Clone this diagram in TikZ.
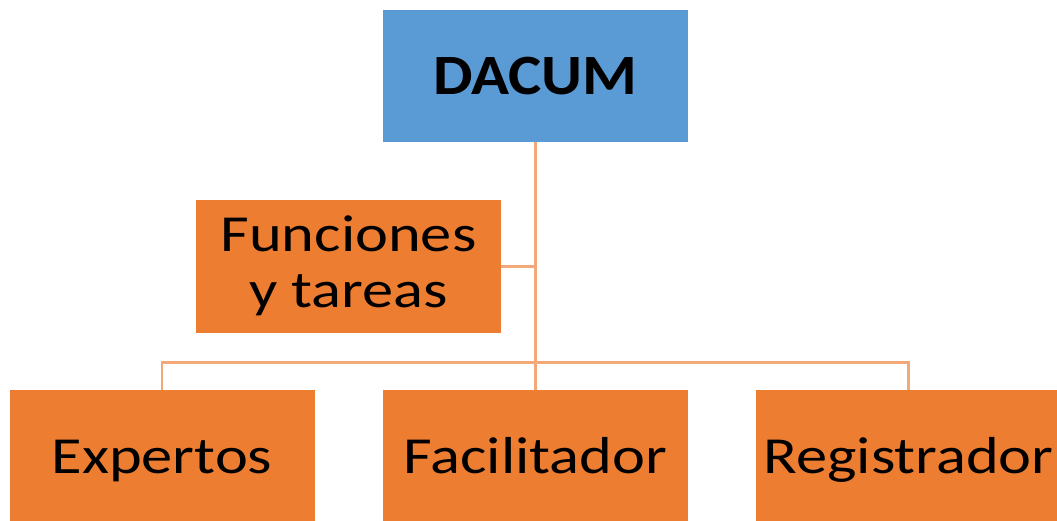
\documentclass[tikz,border=0pt]{standalone}
\usepackage{fontspec}
\setmainfont{Carlito}[FakeStretch=1.2]
\newfontfamily\dacumfont{Carlito}[FakeStretch=1.1]
\definecolor{dblue}{HTML}{5B9BD5}
\definecolor{dorange}{HTML}{ED7D31}
\definecolor{dline}{HTML}{F2A878}
\begin{document}
\begin{tikzpicture}[x=1pt,y=-1pt,
  box/.style={rectangle, inner sep=0pt, minimum width=305pt, minimum height=132pt,
    text=black, font=\fontsize{52}{56}\selectfont, text height=34pt, text depth=0pt, align=center},
  link/.style={draw=dline, line width=2.2pt}]
\useasboundingbox (0,0) rectangle (1057,521);
\clip (0,0) rectangle (1057,521);
\node[box, fill=dblue, font=\dacumfont\bfseries\fontsize{57}{60}\selectfont, text height=37pt] (dacum) at (535.5,76) {DACUM};
\node[box, fill=dorange, text height=90pt, text depth=8pt] (func) at (348.5,266.5) {Funciones\\y tareas};
\node[box, fill=dorange] (exp) at (162,456) {Expertos};
\node[box, fill=dorange] (fac) at (535.5,456) {Facilitador};
\node[box, fill=dorange] (reg) at (908.5,456) {Registrador};
\coordinate (busc) at (535.5,362.5);
\draw[link] (dacum.south) -- (fac.north);
\draw[link] (func.east) -- (func.east -| dacum.south);
\draw[link] (exp.north) -- (exp.north |- busc) -- (reg.north |- busc) -- (reg.north);
\end{tikzpicture}
\end{document}
